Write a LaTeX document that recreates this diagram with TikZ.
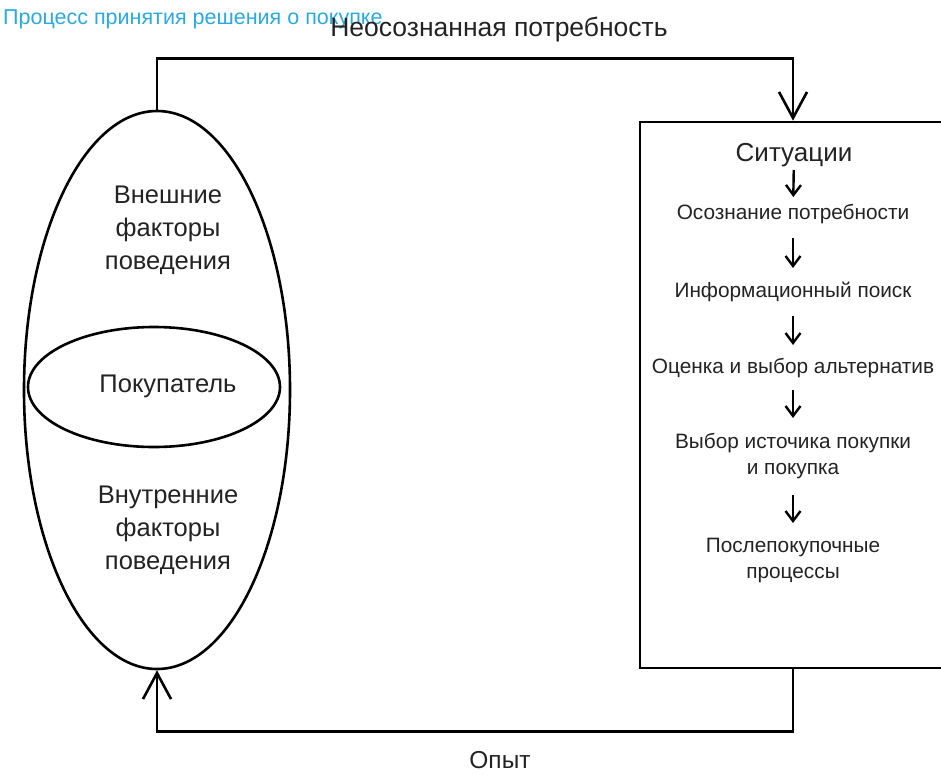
\documentclass[tikz,border=0pt]{standalone}
\usepackage{fontspec}
\setmainfont{Liberation Sans}
\usetikzlibrary{shapes.geometric,arrows.meta}
\definecolor{titleblue}{RGB}{41,170,226}
\definecolor{txt}{RGB}{35,35,35}
\tikzset{
  conn/.style={line width=2.6pt, -{Straight Barb[length=26pt,width=28pt,line width=2.6pt]}},
  stepar/.style={line width=2.4pt, -{Straight Barb[length=10pt,width=15pt,line width=2.4pt]}},
  outline/.style={draw, line width=2.6pt, ellipse, inner sep=0pt},
  lbl/.style={text=txt, align=center, inner sep=0pt},
  steptext/.style={lbl, font=\fontsize{20.8}{26}\selectfont},
  sidetext/.style={lbl, font=\fontsize{25.5}{33}\selectfont},
}
\begin{document}
\begin{tikzpicture}[x=1pt,y=-1pt]
\useasboundingbox (0,0) rectangle (941,774);
% title
\node[anchor=west, text=titleblue, font=\fontsize{21.5}{24}\selectfont, inner sep=0pt] (title) at (3,19) {Процесс принятия решения о покупке};
\node[lbl, font=\fontsize{26.5}{30}\selectfont] (need) at (499,30) {Неосознанная потребность};
% left ellipses
\node[outline, minimum width=266pt, minimum height=558pt] (big) at (157,390) {};
\node[outline, minimum width=252pt, minimum height=120pt] (buyer) at (154,387) {};
\node[sidetext] (ext) at (168,230) {Внешние\\факторы\\поведения};
\node[sidetext] (bl) at (168,386) {Покупатель};
\node[sidetext] (int) at (168,530) {Внутренние\\факторы\\поведения};
% right box
\node[draw, line width=2.6pt, minimum width=306pt, minimum height=546pt, inner sep=0pt] (box) at (793,395) {};
\node[lbl, font=\fontsize{26}{30}\selectfont] (s1) at (794,155) {Ситуации};
\node[steptext] (s2) at (793,214) {Осознание потребности};
\node[steptext] (s3) at (793,292) {Информационный поиск};
\node[steptext] (s4) at (793,368) {Оценка и выбор альтернатив};
\node[steptext] (s5) at (793,456) {Выбор источика покупки\\и покупка};
\node[steptext] (s6) at (793,560) {Послепокупочные\\процессы};
\draw[stepar, shorten <=15pt, shorten >=17pt] (s1.center) -- (s2.center);
\draw[stepar, shorten <=24pt, shorten >=24pt] (s2.center) -- (s3.center);
\draw[stepar, shorten <=24pt, shorten >=23pt] (s3.center) -- (s4.center);
\draw[stepar, shorten <=22pt, shorten >=38pt] (s4.center) -- (s5.center);
\draw[stepar, shorten <=39pt, shorten >=37pt] (s5.center) -- (s6.center);
% loop connectors
\draw[conn] (big.north) -- ++(0,-51) -| (box.north);
\draw[conn] (box.south) -- ++(0,62) -| (big.south);
\node[lbl, font=\fontsize{24.5}{28}\selectfont] (exp) at (500,760) {Опыт};
\end{tikzpicture}
\end{document}
